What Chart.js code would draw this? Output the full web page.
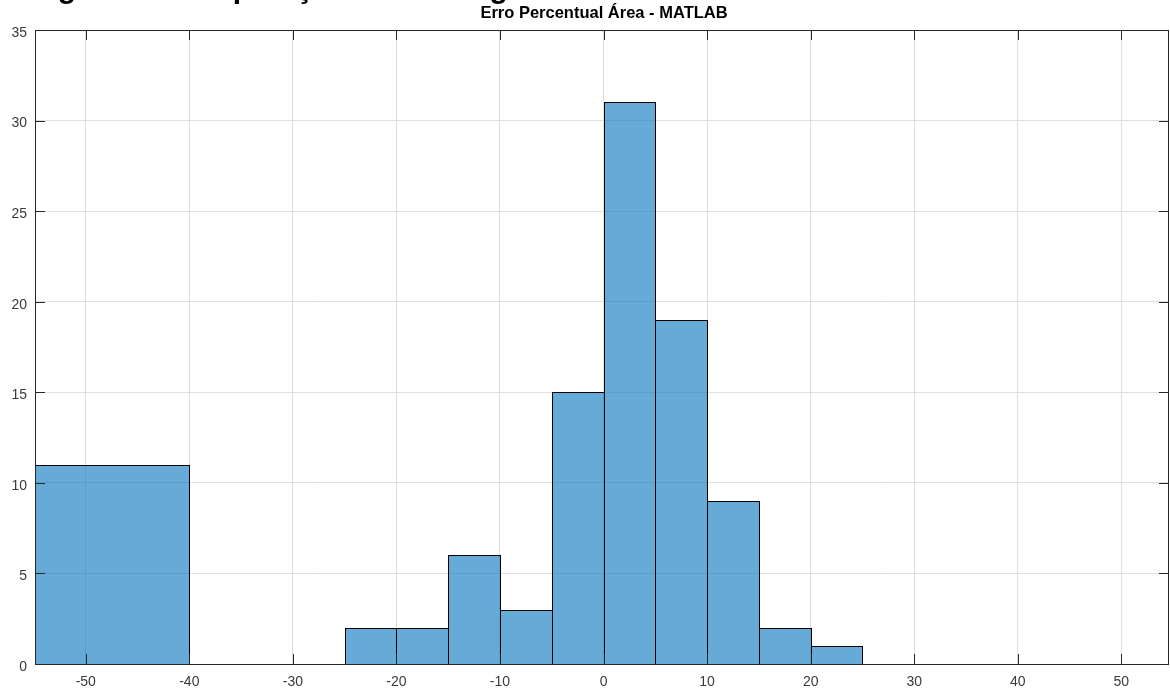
<!DOCTYPE html>
<html>
<head>
<meta charset="utf-8">
<script src="https://cdn.jsdelivr.net/npm/chart.js@4/dist/chart.umd.min.js"></script>
<style>
  html, body { margin: 0; padding: 0; background: #ffffff; }
  #wrap { width: 1170px; height: 691px; }
</style>
</head>
<body>
<div id="wrap"><canvas id="histo" width="1170" height="691"></canvas></div>
<script>
// Histogram bins: edges and counts per bin
const binEdges  = [-54.9, -40, -35, -30, -25, -20, -15, -10, -5, 0, 5, 10, 15, 20, 25];
const binCounts = [11, 0, 0, 0, 2, 2, 6, 3, 15, 31, 19, 9, 2, 1];

// Axis ticks and limits
const xTickValues = [-50, -40, -30, -20, -10, 0, 10, 20, 30, 40, 50];
const yTickValues = [0, 5, 10, 15, 20, 25, 30, 35];
const xLimits = [-54.9, 54.6];
const yLimits = [0, 35];

// Texts
const chartTitle = 'Erro Percentual Área - MATLAB';
const figureCaption = 'Figura 9: Comparação dos histogramas';

const AXIS_COLOR = '#262626';
const LABEL_COLOR = '#3a3a3a';
const GRID_COLOR = '#dfdfdf';
const BAR_FILL = 'rgba(0, 114, 189, 0.6)';
const FONT = '"Liberation Sans", Arial, Helvetica, sans-serif';

// Bin centres as scatter points so the scales know the data
const binPoints = binCounts.map((c, i) => ({ x: (binEdges[i] + binEdges[i + 1]) / 2, y: c }));

const histogramPlugin = {
  id: 'histogramBars',
  beforeDatasetsDraw(chart) {
    const { ctx, chartArea, scales } = chart;
    const xs = scales.x, ys = scales.y;
    ctx.save();
    ctx.beginPath();
    ctx.rect(chartArea.left, chartArea.top, chartArea.right - chartArea.left, chartArea.bottom - chartArea.top);
    ctx.clip();
    binCounts.forEach((count, i) => {
      if (!count) return;
      const x0 = Math.round(xs.getPixelForValue(binEdges[i])) + 0.5;
      const x1 = Math.round(xs.getPixelForValue(binEdges[i + 1])) + 0.5;
      const y0 = Math.round(ys.getPixelForValue(count)) + 0.5;
      const y1 = Math.round(ys.getPixelForValue(0)) + 0.5;
      ctx.fillStyle = BAR_FILL;
      ctx.fillRect(x0, y0, x1 - x0, y1 - y0);
      ctx.strokeStyle = '#000000';
      ctx.lineWidth = 1;
      ctx.strokeRect(x0, y0, x1 - x0, y1 - y0);
    });
    ctx.restore();
  },
  afterDraw(chart) {
    const { ctx, chartArea, scales } = chart;
    const { left, right, top, bottom } = chartArea;
    const xs = scales.x, ys = scales.y;
    const tickLen = 10;
    ctx.save();
    // Axes box
    ctx.strokeStyle = AXIS_COLOR;
    ctx.lineWidth = 1;
    ctx.strokeRect(Math.round(left) + 0.5, Math.round(top) + 0.5,
                   Math.round(right - left) - 1, Math.round(bottom - top));
    // Inward tick marks on all four sides
    ctx.beginPath();
    xTickValues.forEach(v => {
      const px = Math.round(xs.getPixelForValue(v)) + 0.5;
      ctx.moveTo(px, bottom); ctx.lineTo(px, bottom - tickLen);
      ctx.moveTo(px, top); ctx.lineTo(px, top + tickLen);
    });
    yTickValues.forEach(v => {
      const py = Math.round(ys.getPixelForValue(v)) + 0.5;
      ctx.moveTo(left, py); ctx.lineTo(left + tickLen, py);
      ctx.moveTo(right, py); ctx.lineTo(right - tickLen, py);
    });
    ctx.stroke();
    // Axes title
    ctx.fillStyle = '#000000';
    ctx.font = 'bold 16.5px ' + FONT;
    ctx.textAlign = 'center';
    ctx.textBaseline = 'alphabetic';
    ctx.fillText(chartTitle, (left + right) / 2 + 2, 18);
    // Figure caption running off the top edge
    ctx.font = 'bold 30px ' + FONT;
    ctx.textAlign = 'left';
    ctx.fillText(figureCaption, 31, -2);
    ctx.restore();
  }
};

new Chart(document.getElementById('histo'), {
  type: 'scatter',
  data: {
    datasets: [{
      label: 'Erro Percentual',
      data: binPoints,
      pointRadius: 0,
      pointHoverRadius: 0,
      showLine: false
    }]
  },
  options: {
    responsive: false,
    animation: false,
    devicePixelRatio: 1,
    layout: { padding: { top: 30, right: 1, left: 0, bottom: 0 } },
    plugins: {
      legend: { display: false },
      title: { display: false },
      tooltip: { enabled: false }
    },
    scales: {
      x: {
        type: 'linear',
        min: xLimits[0],
        max: xLimits[1],
        afterBuildTicks: s => { s.ticks = xTickValues.map(v => ({ value: v })); },
        afterFit: s => { s.height = 27; },
        grid: { color: GRID_COLOR, drawTicks: false, lineWidth: 1 },
        border: { display: false },
        ticks: {
          color: LABEL_COLOR,
          font: { family: FONT, size: 14 },
          padding: 10,
          maxRotation: 0,
          autoSkip: false
        }
      },
      y: {
        type: 'linear',
        min: yLimits[0],
        max: yLimits[1],
        afterBuildTicks: s => { s.ticks = yTickValues.map(v => ({ value: v })); },
        afterFit: s => { s.width = 35; },
        grid: { color: GRID_COLOR, drawTicks: false, lineWidth: 1 },
        border: { display: false },
        ticks: {
          color: LABEL_COLOR,
          font: { family: FONT, size: 14 },
          padding: 8,
          labelOffset: 3
        }
      }
    }
  },
  plugins: [histogramPlugin]
});
</script>
</body>
</html>
